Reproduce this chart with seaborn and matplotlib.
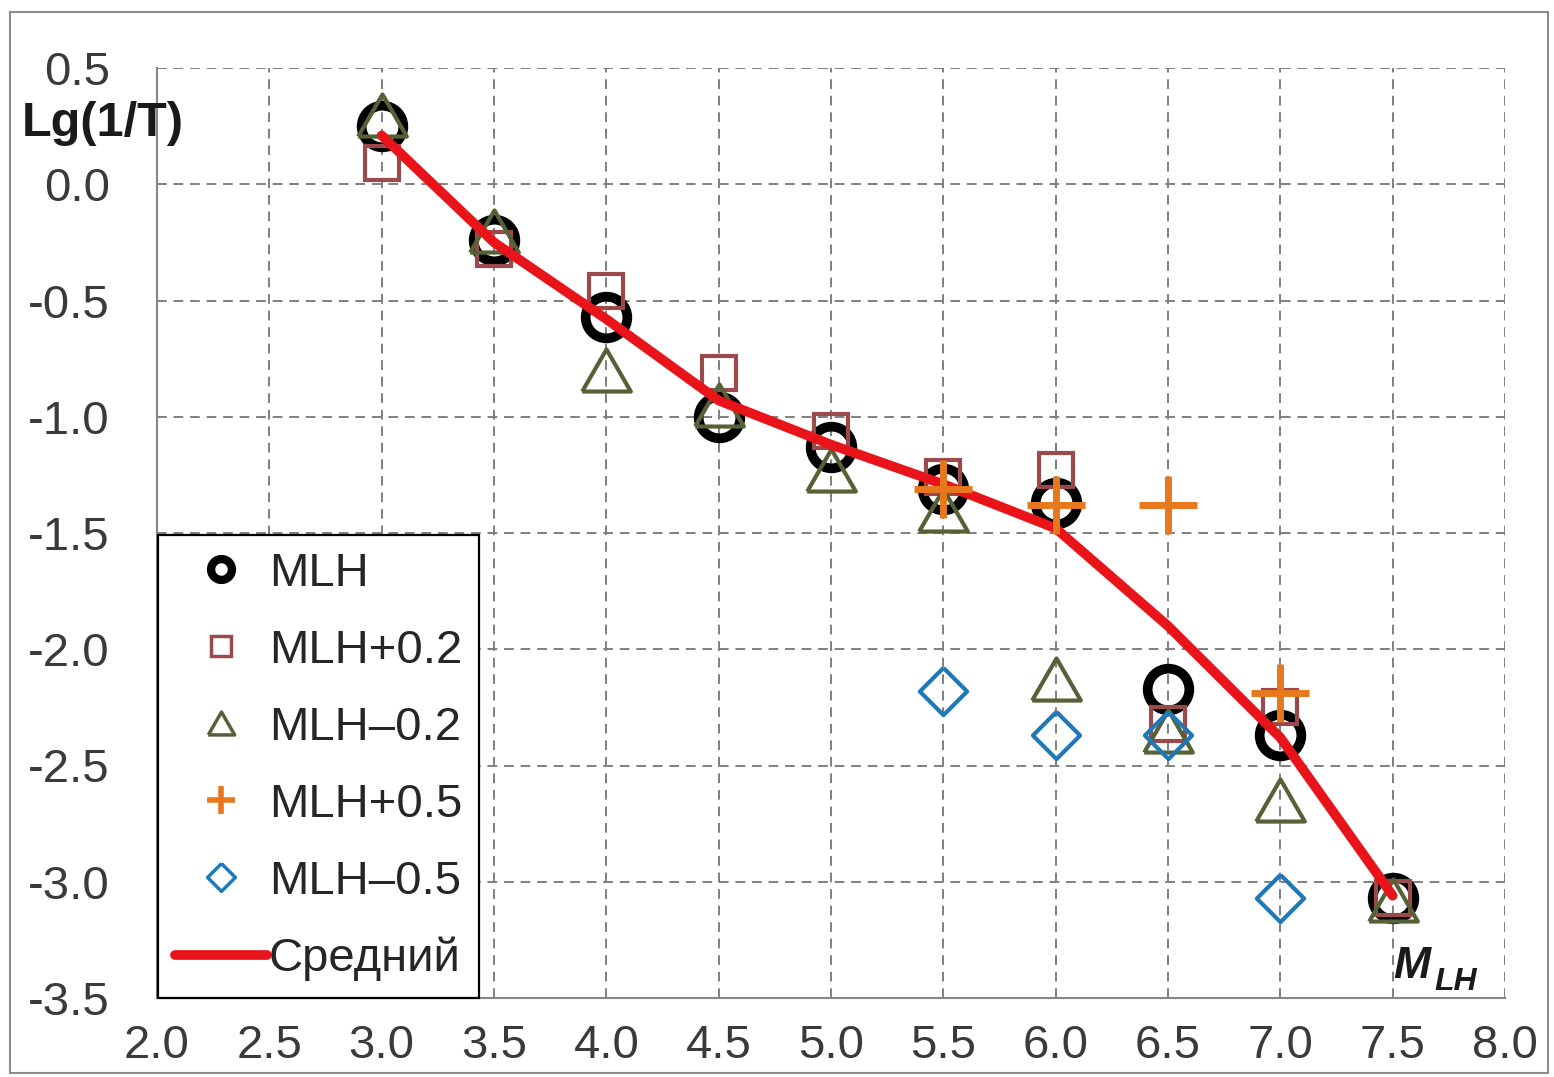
import matplotlib
matplotlib.use("Agg")
import matplotlib.pyplot as plt
from matplotlib.lines import Line2D
from matplotlib.patches import Rectangle
import numpy as np
import pandas as pd
import seaborn as sns

# magnitude grid
mag = [3.0, 3.5, 4.0, 4.5, 5.0, 5.5, 6.0, 6.5, 7.0, 7.5]
mag_short = [5.5, 6.0, 6.5, 7.0]

# Lg(1/T) per magnitude for each variant
mlh = [0.25, -0.24, -0.57, -1.00, -1.13, -1.31, -1.37, -2.17, -2.37, -3.07]
mlh_plus02 = [0.09, -0.28, -0.46, -0.81, -1.06, -1.26, -1.23, -2.32, -2.25, -3.07]
mlh_minus02 = [0.30, -0.20, -0.80, -0.95, -1.23, -1.40, -2.13, -2.35, -2.65, -3.08]
mlh_plus05 = [-1.31, -1.38, -1.38, -2.19]
mlh_minus05 = [-2.18, -2.37, -2.37, -3.07]
mean_curve = [0.21, -0.25, -0.58, -0.93, -1.12, -1.29, -1.48, -1.90, -2.38, -3.06]

labels = ["MLH", "MLH+0.2", "MLH\u20130.2", "MLH+0.5", "MLH\u20130.5", "Средний"]

sns.set_theme(style="white")
plt.rcParams["font.family"] = ["Liberation Sans", "DejaVu Sans"]

C_CIRCLE = "#000000"
C_SQUARE = "#9A4A4A"
C_TRI = "#556238"
C_PLUS = "#E8781E"
C_DIAM = "#1F78B8"
C_LINE = "#E8141A"

tri_verts = [(-1, -0.866), (1, -0.866), (0, 0.866), (-1, -0.866)]
diam_verts = [(0, 1), (1, 0), (0, -1), (-1, 0), (0, 1)]

fig = plt.figure(figsize=(15.54, 10.77), dpi=100)
ax = fig.add_axes([157 / 1554, 1 - 998 / 1077, (1505 - 157) / 1554, (998 - 68) / 1077])

df_full = pd.DataFrame({"M": mag, "mlh": mlh, "p02": mlh_plus02,
                        "m02": mlh_minus02, "mean": mean_curve})
df_short = pd.DataFrame({"M": mag_short, "p05": mlh_plus05, "m05": mlh_minus05})

def markers(data, col, **kw):
    sns.lineplot(data=data, x="M", y=col, ax=ax, linestyle="none",
                 markerfacecolor="none", legend=False, **kw)

markers(df_full, "mlh", marker="o", markersize=30, markeredgecolor=C_CIRCLE,
        markeredgewidth=7, color=C_CIRCLE, zorder=3)
markers(df_full, "p02", marker="s", markersize=25, markeredgecolor=C_SQUARE,
        markeredgewidth=3, color=C_SQUARE, zorder=3)
markers(df_full, "m02", marker=tri_verts, markersize=35, markeredgecolor=C_TRI,
        markeredgewidth=3, color=C_TRI, zorder=3)
sns.lineplot(data=df_full, x="M", y="mean", ax=ax, color=C_LINE, linewidth=7,
             solid_capstyle="round", legend=False, zorder=4)
markers(df_short, "p05", marker="+", markersize=42, markeredgecolor=C_PLUS,
        markeredgewidth=5, color=C_PLUS, zorder=5)
markers(df_short, "m05", marker=diam_verts, markersize=34, markeredgecolor=C_DIAM,
        markeredgewidth=3, color=C_DIAM, zorder=5)

ax.set_xlim(2.0, 8.0)
ax.set_ylim(-3.5, 0.5)
ax.set_xticks(np.arange(2.0, 8.01, 0.5))
ax.set_yticks(np.arange(-3.5, 0.51, 0.5))
ax.set_xticklabels([f"{v:.1f}" for v in np.arange(2.0, 8.01, 0.5)])
ax.set_yticklabels([f"{v:.1f}" for v in np.arange(-3.5, 0.51, 0.5)])
ax.set_xlabel("")
ax.set_ylabel("")

ax.grid(True, color="#7f7f7f", linewidth=1.4, linestyle=(0, (5, 3.5)))
ax.set_axisbelow(True)
for side in ["top", "right"]:
    ax.spines[side].set_visible(False)
for side in ["left", "bottom"]:
    ax.spines[side].set_color("#868686")
    ax.spines[side].set_linewidth(1.5)

ax.tick_params(axis="both", direction="out", length=10, width=1.4,
               color="#868686", labelsize=34, labelcolor="#3a3a3a")
ax.tick_params(axis="y", pad=24)
ax.tick_params(axis="x", pad=9)

handles = [
    Line2D([], [], marker="o", ls="none", ms=15, mfc="none", mec=C_CIRCLE, mew=6),
    Line2D([], [], marker="s", ls="none", ms=15, mfc="none", mec=C_SQUARE, mew=2.5),
    Line2D([], [], marker=tri_verts, ls="none", ms=19, mfc="none", mec=C_TRI, mew=2.5),
    Line2D([], [], marker="+", ls="none", ms=20, mfc="none", mec=C_PLUS, mew=4),
    Line2D([], [], marker=diam_verts, ls="none", ms=20, mfc="none", mec=C_DIAM, mew=2.5),
    Line2D([], [], color=C_LINE, lw=7, solid_capstyle="round"),
]
leg = ax.legend(handles, labels, loc="lower left", bbox_to_anchor=(0.0008, 0.0),
                fontsize=34, frameon=True, fancybox=False, framealpha=1,
                edgecolor="black", handlelength=1.95, handletextpad=0.05,
                labelspacing=0.7, borderpad=0.35, borderaxespad=0.0)
leg.get_frame().set_linewidth(1.6)
for t in leg.get_texts():
    t.set_color("#262626")

# widen the legend box slightly to the right, keeping its contents in place
fig.canvas.draw()
frame = leg.get_frame()
frame.set_width(frame.get_width() + 12)

fig.text(22 / 1554, 1 - 123 / 1077, "Lg(1/T)", fontsize=35, fontweight="bold",
         color="#1a1a1a", ha="left", va="center")
fig.text(1393 / 1554, 1 - 966 / 1077, "M", fontsize=32, fontweight="bold",
         fontstyle="italic", color="#1a1a1a", ha="left", va="center")
fig.text(1434 / 1554, 1 - 982 / 1077, "LH", fontsize=23, fontweight="bold",
         fontstyle="italic", color="#1a1a1a", ha="left", va="center")

fig.patches.append(Rectangle((10 / 1554, 4 / 1077), 1538 / 1554, 1061 / 1077,
                             transform=fig.transFigure, fill=False,
                             edgecolor="#8c8c8c", linewidth=1.5))

fig.savefig("out.png", dpi=100)
